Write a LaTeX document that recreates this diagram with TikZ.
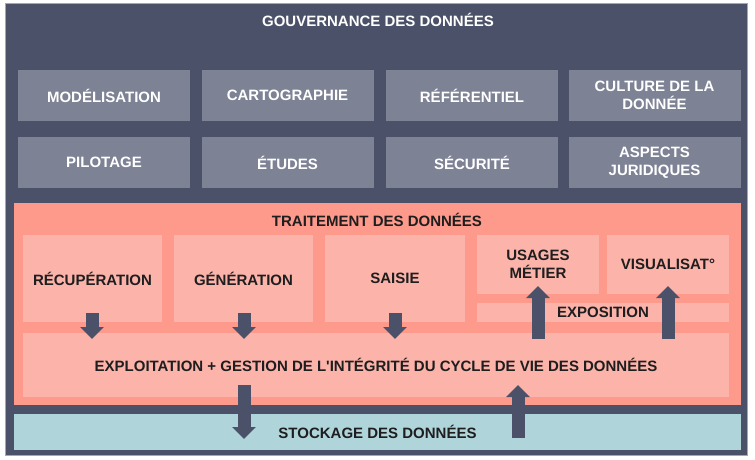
\documentclass[tikz,border=0pt]{standalone}
\usepackage{fontspec}
\setmainfont{Liberation Sans}
\usetikzlibrary{arrows.meta}
\definecolor{dark}{HTML}{4A5168}
\definecolor{gbox}{HTML}{7E8295}
\definecolor{salmon}{HTML}{FE9A8B}
\definecolor{lsalmon}{HTML}{FBB3AA}
\definecolor{lblue}{HTML}{AFD5DB}
\definecolor{txt}{HTML}{1E1E1E}
\begin{document}
\begin{tikzpicture}[x=1pt,y=-1pt,
  every node/.style={inner sep=0pt, outer sep=0pt, font=\fontsize{15}{17.5}\selectfont\bfseries, align=center},
  govbox/.style={fill=gbox, text=white, minimum width=172pt, minimum height=51pt},
  tbox/.style={fill=lsalmon, text=txt},
  blockarrow/.style={draw=dark, line width=13pt, -{Triangle[width=23pt,length=12pt]}}
]
\useasboundingbox (0,0) rectangle (755,459);
\fill[white] (0,0) rectangle (755,459);
\node[fill=dark, draw=gbox!70, line width=0.8pt, minimum width=742pt, minimum height=452pt] (gov) at (376,229) {};
\node[text=white] (govt) at (378,20) {GOUVERNANCE DES DONNÉES};
% row 1
\node[govbox] (mod) at (104,95.5) {MODÉLISATION};
\node[govbox] (car) at (287.5,95.5) {CARTOGRAPHIE};
\node[govbox] (ref) at (472,95.5) {RÉFÉRENTIEL};
\node[govbox] (cul) at (654.5,95.5) {CULTURE DE LA\\DONNÉE};
% row 2
\node[govbox] (pil) at (104,162.5) {PILOTAGE};
\node[govbox] (etu) at (287.5,162.5) {ÉTUDES};
\node[govbox] (sec) at (472,162.5) {SÉCURITÉ};
\node[govbox] (jur) at (654.5,162.5) {ASPECTS\\JURIDIQUES};
% traitement
\node[fill=salmon, minimum width=727pt, minimum height=202pt] (trt) at (377.5,304) {};
\node[text=txt] (trtt) at (377,220) {TRAITEMENT DES DONNÉES};
\node[tbox, minimum width=139pt, minimum height=87pt] (rec) at (92.5,278.5) {RÉCUPÉRATION};
\node[tbox, minimum width=139pt, minimum height=87pt] (gen) at (243.5,278.5) {GÉNÉRATION};
\node[tbox, minimum width=140pt, minimum height=87pt] (sai) at (395,278.5) {SAISIE};
\node[tbox, minimum width=122pt, minimum height=59pt] (usa) at (538,264.5) {USAGES\\MÉTIER};
\node[tbox, minimum width=122pt, minimum height=59pt] (vis) at (668,264.5) {VISUALISAT°};
\node[tbox, minimum width=252pt, minimum height=19pt] (expo) at (603,312.5) {EXPOSITION};
\node[tbox, minimum width=706pt, minimum height=64pt] (expl) at (376,365) {EXPLOITATION + GESTION DE L\textquotesingle INTÉGRITÉ DU CYCLE DE VIE DES DONNÉES};
% stockage
\node[fill=lblue, text=txt, minimum width=727pt, minimum height=36pt] (sto) at (377.5,432) {STOCKAGE DES DONNÉES};
% arrows
\coordinate (d1s) at (92,313);  \coordinate (d1e) at (92,339);
\coordinate (d2s) at (244,313); \coordinate (d2e) at (244,339);
\coordinate (d3s) at (395,313); \coordinate (d3e) at (395,339);
\coordinate (d4s) at (244,385); \coordinate (d4e) at (244,439);
\coordinate (u1s) at (538,339); \coordinate (u1e) at (538,286);
\coordinate (u2s) at (668,339); \coordinate (u2e) at (668,286);
\coordinate (u3s) at (518,438); \coordinate (u3e) at (518,385);
\draw[blockarrow] (d1s) -- (d1e);
\draw[blockarrow] (d2s) -- (d2e);
\draw[blockarrow] (d3s) -- (d3e);
\draw[blockarrow] (d4s) -- (d4e);
\draw[blockarrow] (u1s) -- (u1e);
\draw[blockarrow] (u2s) -- (u2e);
\draw[blockarrow] (u3s) -- (u3e);
\end{tikzpicture}
\end{document}
